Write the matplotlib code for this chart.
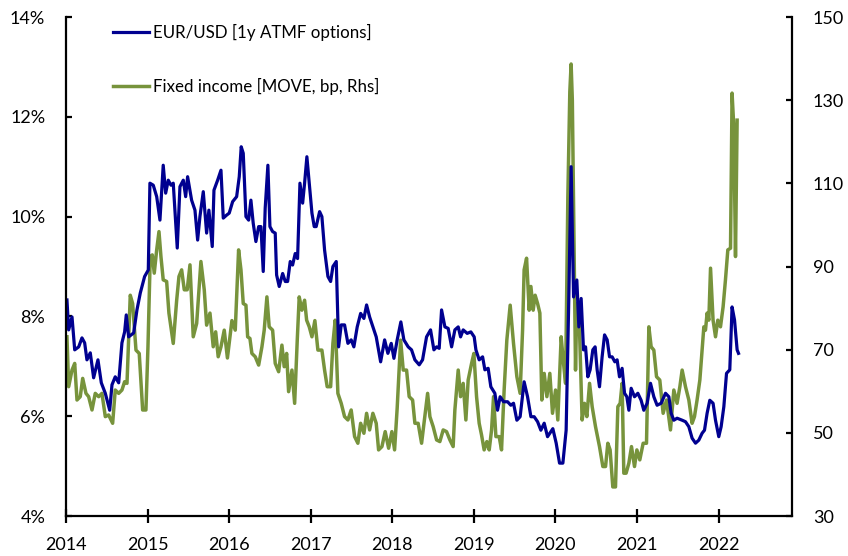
import matplotlib.pyplot as plt
import numpy as np

# EUR/USD 1y ATMF implied vol (%), decimal years
eur_t = [2014.012, 2014.033, 2014.074, 2014.107, 2014.156, 2014.196, 2014.229, 2014.257, 2014.298, 2014.339,
         2014.392, 2014.433, 2014.482, 2014.536, 2014.564, 2014.604, 2014.646, 2014.686, 2014.719, 2014.739,
         2014.768, 2014.830, 2014.870, 2014.911, 2014.964, 2015.009, 2015.029, 2015.070, 2015.112, 2015.152,
         2015.192, 2015.222, 2015.254, 2015.287, 2015.315, 2015.364, 2015.397, 2015.438, 2015.467, 2015.491,
         2015.540, 2015.581, 2015.614, 2015.642, 2015.683, 2015.724, 2015.752, 2015.793, 2015.814, 2015.859,
         2015.900, 2015.928, 2015.969, 2016.001, 2016.043, 2016.092, 2016.124, 2016.148, 2016.173, 2016.206,
         2016.239, 2016.267, 2016.295, 2016.328, 2016.362, 2016.390, 2016.418, 2016.442, 2016.475, 2016.500,
         2016.533, 2016.565, 2016.582, 2016.614, 2016.656, 2016.688, 2016.717, 2016.749, 2016.778, 2016.810,
         2016.839, 2016.868, 2016.901, 2016.925, 2016.953, 2016.982, 2017.015, 2017.043, 2017.067, 2017.109,
         2017.137, 2017.170, 2017.211, 2017.244, 2017.272, 2017.313, 2017.342, 2017.374, 2017.415, 2017.456,
         2017.496, 2017.529, 2017.570, 2017.612, 2017.652, 2017.685, 2017.722, 2017.762, 2017.803, 2017.857,
         2017.906, 2017.946, 2017.987, 2018.020, 2018.060, 2018.105, 2018.142, 2018.195, 2018.236, 2018.277,
         2018.330, 2018.371, 2018.420, 2018.469, 2018.510, 2018.543, 2018.575, 2018.604, 2018.645, 2018.685,
         2018.727, 2018.767, 2018.808, 2018.837, 2018.869, 2018.918, 2018.963, 2019.004, 2019.025, 2019.065,
         2019.107, 2019.135, 2019.175, 2019.208, 2019.257, 2019.290, 2019.322, 2019.364, 2019.413, 2019.453,
         2019.486, 2019.527, 2019.567, 2019.616, 2019.658, 2019.699, 2019.739, 2019.781, 2019.821, 2019.862,
         2019.903, 2019.944, 2019.968, 2020.009, 2020.050, 2020.091, 2020.131, 2020.164, 2020.192, 2020.222,
         2020.262, 2020.287, 2020.315, 2020.344, 2020.369, 2020.397, 2020.425, 2020.458, 2020.486, 2020.511,
         2020.540, 2020.572, 2020.602, 2020.634, 2020.663, 2020.695, 2020.728, 2020.756, 2020.785, 2020.817,
         2020.847, 2020.875, 2020.900, 2020.928, 2020.969, 2021.010, 2021.050, 2021.083, 2021.124, 2021.165,
         2021.206, 2021.246, 2021.295, 2021.349, 2021.390, 2021.418, 2021.451, 2021.491, 2021.553, 2021.594,
         2021.635, 2021.675, 2021.717, 2021.757, 2021.798, 2021.827, 2021.859, 2021.892, 2021.932, 2021.962,
         2022.002, 2022.031, 2022.064, 2022.097, 2022.137, 2022.165, 2022.195, 2022.227, 2022.244]
eur_vol = [8.33, 7.73, 7.99, 7.33, 7.39, 7.57, 7.47, 7.13, 7.27, 6.77,
           7.13, 6.67, 6.46, 6.12, 6.63, 6.79, 6.67, 7.47, 7.69, 8.03,
           7.59, 7.67, 8.13, 8.47, 8.80, 8.93, 10.67, 10.63, 10.40, 9.93,
           11.03, 10.47, 10.73, 10.63, 10.67, 9.37, 10.60, 10.73, 10.40, 10.80,
           10.33, 10.13, 9.53, 10.00, 10.50, 9.67, 10.13, 9.40, 10.53, 10.73,
           10.93, 9.97, 10.03, 10.07, 10.30, 10.40, 10.80, 11.40, 11.27, 10.00,
           9.93, 10.33, 9.87, 9.50, 9.80, 9.80, 8.90, 10.17, 11.03, 9.80,
           9.70, 9.67, 8.83, 8.60, 8.86, 8.70, 8.70, 9.10, 9.03, 9.26,
           9.16, 10.67, 10.27, 10.67, 11.20, 10.67, 10.07, 9.80, 9.80, 10.10,
           10.00, 9.33, 8.80, 8.70, 9.00, 9.10, 7.39, 7.83, 7.83, 7.46,
           7.53, 7.39, 7.79, 8.06, 7.96, 8.23, 7.99, 7.79, 7.59, 7.09,
           7.53, 7.26, 7.46, 7.16, 7.53, 7.89, 7.53, 7.39, 7.33, 7.13,
           7.03, 7.13, 7.59, 7.73, 7.33, 7.39, 7.36, 8.13, 7.79, 7.76,
           7.39, 7.73, 7.79, 7.59, 7.73, 7.66, 7.69, 7.59, 7.33, 7.13,
           7.19, 6.93, 6.96, 6.59, 6.46, 6.12, 6.39, 6.29, 6.29, 6.22,
           6.26, 5.92, 5.99, 6.69, 6.39, 5.99, 5.99, 5.89, 5.72, 5.86,
           5.59, 5.69, 5.75, 5.46, 5.06, 5.06, 5.72, 8.39, 11.00, 8.39,
           8.73, 7.79, 8.36, 7.33, 7.39, 6.79, 6.93, 7.33, 7.39, 6.93,
           6.59, 7.19, 7.63, 7.53, 7.19, 7.19, 7.09, 7.13, 6.79, 6.96,
           6.46, 6.39, 6.12, 6.56, 6.39, 6.46, 6.32, 6.12, 6.26, 6.66,
           6.39, 6.22, 6.26, 6.46, 6.39, 6.06, 5.92, 5.96, 5.92, 5.89,
           5.79, 5.56, 5.46, 5.52, 5.66, 5.72, 6.06, 6.32, 6.26, 5.92,
           5.59, 5.79, 6.19, 6.86, 6.93, 8.19, 7.93, 7.33, 7.26]

# MOVE index (bp), decimal years
move_t = [2014.012, 2014.033, 2014.074, 2014.107, 2014.135, 2014.175, 2014.205, 2014.245, 2014.278, 2014.319,
          2014.359, 2014.401, 2014.441, 2014.482, 2014.523, 2014.572, 2014.604, 2014.646, 2014.686, 2014.719,
          2014.748, 2014.788, 2014.817, 2014.858, 2014.898, 2014.940, 2014.980, 2015.005, 2015.033, 2015.058,
          2015.082, 2015.112, 2015.140, 2015.164, 2015.192, 2015.234, 2015.262, 2015.315, 2015.357, 2015.385,
          2015.418, 2015.450, 2015.486, 2015.520, 2015.560, 2015.602, 2015.654, 2015.695, 2015.724, 2015.765,
          2015.805, 2015.835, 2015.866, 2015.900, 2015.940, 2015.979, 2016.034, 2016.075, 2016.116, 2016.145,
          2016.173, 2016.206, 2016.227, 2016.255, 2016.279, 2016.320, 2016.362, 2016.402, 2016.430, 2016.463,
          2016.491, 2016.533, 2016.565, 2016.607, 2016.647, 2016.675, 2016.705, 2016.729, 2016.770, 2016.803,
          2016.835, 2016.859, 2016.892, 2016.925, 2016.950, 2016.982, 2017.015, 2017.051, 2017.088, 2017.137,
          2017.170, 2017.202, 2017.244, 2017.272, 2017.300, 2017.333, 2017.374, 2017.415, 2017.456, 2017.496,
          2017.538, 2017.578, 2017.612, 2017.652, 2017.685, 2017.722, 2017.762, 2017.803, 2017.832, 2017.873,
          2017.913, 2017.955, 2017.995, 2018.028, 2018.060, 2018.102, 2018.134, 2018.175, 2018.207, 2018.249,
          2018.277, 2018.317, 2018.359, 2018.399, 2018.433, 2018.461, 2018.501, 2018.543, 2018.583, 2018.624,
          2018.665, 2018.706, 2018.746, 2018.767, 2018.808, 2018.837, 2018.869, 2018.902, 2018.930, 2018.972,
          2019.000, 2019.033, 2019.065, 2019.094, 2019.126, 2019.159, 2019.188, 2019.217, 2019.241, 2019.270,
          2019.310, 2019.339, 2019.371, 2019.404, 2019.445, 2019.486, 2019.527, 2019.567, 2019.597, 2019.616,
          2019.646, 2019.678, 2019.699, 2019.727, 2019.751, 2019.781, 2019.809, 2019.833, 2019.862, 2019.895,
          2019.931, 2019.964, 2020.001, 2020.029, 2020.070, 2020.099, 2020.124, 2020.152, 2020.176, 2020.192,
          2020.207, 2020.225, 2020.246, 2020.262, 2020.295, 2020.327, 2020.356, 2020.385, 2020.418, 2020.450,
          2020.491, 2020.540, 2020.581, 2020.614, 2020.642, 2020.670, 2020.703, 2020.736, 2020.765, 2020.793,
          2020.817, 2020.838, 2020.866, 2020.900, 2020.932, 2020.969, 2020.998, 2021.034, 2021.075, 2021.116,
          2021.145, 2021.173, 2021.206, 2021.239, 2021.279, 2021.320, 2021.361, 2021.410, 2021.451, 2021.491,
          2021.525, 2021.553, 2021.594, 2021.635, 2021.675, 2021.704, 2021.736, 2021.770, 2021.798, 2021.819,
          2021.839, 2021.859, 2021.880, 2021.901, 2021.932, 2021.962, 2021.990, 2022.023, 2022.055, 2022.084,
          2022.113, 2022.146, 2022.165, 2022.186, 2022.207, 2022.227]
move_bp = [73.1, 61.1, 65.1, 66.7, 57.9, 58.7, 63.1, 59.5, 58.7, 55.5,
           59.5, 58.7, 59.5, 53.9, 54.3, 52.3, 60.3, 59.5, 60.3, 62.3,
           61.9, 83.1, 81.1, 69.9, 69.1, 55.5, 55.5, 70.7, 92.4, 92.8,
           88.4, 94.0, 98.4, 92.4, 86.8, 86.4, 78.8, 71.5, 81.9, 87.6,
           89.2, 84.4, 84.4, 90.4, 73.1, 76.3, 91.2, 84.4, 75.9, 78.8,
           70.7, 74.3, 68.3, 70.7, 74.7, 68.0, 77.0, 74.7, 94.0, 89.2,
           81.1, 80.7, 73.1, 72.7, 69.1, 68.3, 66.3, 70.7, 74.7, 82.7,
           75.5, 74.7, 66.7, 64.7, 71.1, 65.9, 69.1, 59.9, 65.1, 57.1,
           72.3, 82.7, 79.5, 81.9, 77.1, 75.5, 73.1, 77.0, 69.9, 69.9,
           65.1, 61.1, 61.1, 71.5, 77.1, 59.5, 57.1, 53.9, 53.1, 55.5,
           49.1, 47.5, 52.3, 49.9, 54.7, 50.7, 54.7, 52.3, 45.9, 46.7,
           50.3, 46.3, 50.3, 45.9, 56.0, 72.3, 65.1, 65.1, 58.7, 57.9,
           52.3, 52.3, 47.5, 53.9, 59.5, 53.9, 51.5, 48.3, 47.9, 50.7,
           50.3, 48.3, 46.7, 55.5, 65.1, 58.7, 61.9, 53.1, 62.7, 66.7,
           69.1, 58.7, 52.3, 49.5, 45.9, 47.9, 45.9, 50.7, 58.7, 49.1,
           49.1, 45.9, 60.3, 72.3, 80.7, 71.5, 63.5, 59.5, 74.7, 89.2,
           92.0, 79.5, 85.2, 79.5, 83.1, 81.1, 78.8, 57.9, 64.3, 58.7,
           64.3, 54.7, 60.3, 53.1, 73.1, 66.7, 61.9, 106.8, 132.0, 138.7,
           130.0, 100.0, 65.1, 81.1, 74.7, 53.1, 57.1, 53.9, 61.9, 56.3,
           51.5, 46.7, 41.9, 41.9, 47.5, 45.9, 37.0, 37.0, 56.3, 57.1,
           61.9, 40.3, 40.3, 42.7, 46.7, 41.9, 45.9, 43.5, 47.5, 47.5,
           75.5, 70.7, 69.9, 63.5, 62.7, 54.7, 57.9, 50.7, 60.3, 57.1,
           61.1, 65.1, 61.1, 57.9, 52.3, 53.9, 57.9, 62.7, 69.9, 75.5,
           74.7, 78.8, 77.1, 89.6, 77.1, 73.1, 77.1, 75.5, 80.3, 86.8,
           94.0, 94.4, 131.7, 123.6, 92.4, 125.2]

years = list(range(2014, 2023))
left_ticks = [4, 6, 8, 10, 12, 14]
right_ticks = [30, 50, 70, 90, 110, 130, 150]

blue = '#000090'
green = '#77933C'
plt.rcParams['font.family'] = ['Lato', 'DejaVu Sans']

fig = plt.figure(figsize=(8.48, 5.56), dpi=100)
ax = fig.add_axes([0.0778, 0.0719, 0.8562, 0.8975])
ax2 = ax.twinx()
ax.set_zorder(ax2.get_zorder() + 1)
ax.patch.set_visible(False)

l2, = ax2.plot(move_t, move_bp, color=green, lw=2.5, solid_joinstyle='round',
               label='Fixed income [MOVE, bp, Rhs]')
l1, = ax.plot(eur_t, eur_vol, color=blue, lw=2.3, solid_joinstyle='round',
              label='EUR/USD [1y ATMF options]')

ax.set_xlim(2014, 2022.9)
ax.set_ylim(4, 14)
ax2.set_ylim(30, 150)
ax.set_xticks(years)
ax.set_yticks(left_ticks)
ax.set_yticklabels([f'{v}%' for v in left_ticks])
ax2.set_yticks(right_ticks)

for a in (ax, ax2):
    a.spines['top'].set_visible(False)
    for s in a.spines.values():
        s.set_linewidth(1.6)
ax.spines['right'].set_visible(False)
ax2.spines['left'].set_visible(False)
ax2.spines['bottom'].set_visible(False)

ax.tick_params(axis='x', direction='inout', length=10, width=1.6, pad=10, labelsize=13)
ax.tick_params(axis='y', direction='in', length=4, width=1.6, pad=15, labelsize=13)
ax2.tick_params(axis='y', direction='in', length=4, width=1.6, pad=15, labelsize=13)

ax.legend(handles=[l1, l2], loc='upper left', bbox_to_anchor=(113 / 848, 1 - 24 / 556),
          bbox_transform=fig.transFigure, frameon=False, fontsize=12.2,
          handlelength=2.1, handletextpad=0.25, labelspacing=2.2, borderpad=0,
          borderaxespad=0)

fig.savefig('out.png', dpi=100)
